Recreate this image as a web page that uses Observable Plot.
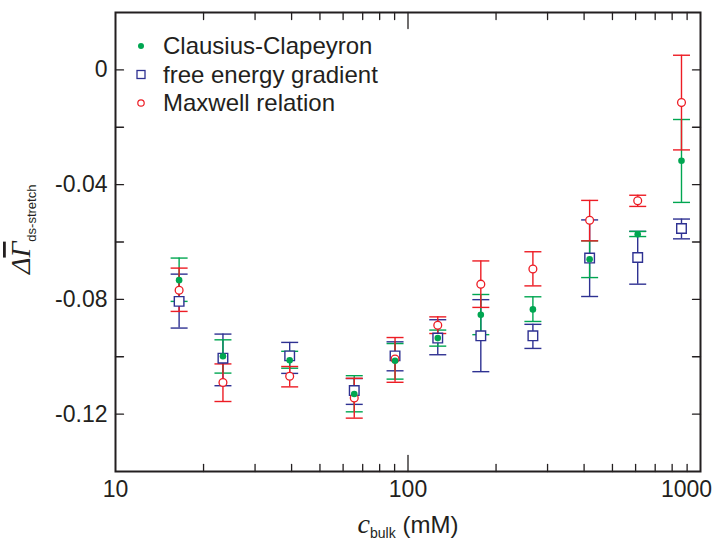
<!DOCTYPE html>
<html>
<head>
<meta charset="utf-8">
<script src="https://cdn.jsdelivr.net/npm/d3@7"></script>
<script src="https://cdn.jsdelivr.net/npm/@observablehq/plot@0.6"></script>
<style>
html, body { margin: 0; padding: 0; background: #fff; }
#chart { width: 714px; height: 540px; }
</style>
</head>
<body>
<div id="chart"></div>
<script>
// ---- data ----
const conc = [16.5, 23.3, 39.4, 65.5, 90.3, 126.4, 177.4, 267.3, 417.8, 610, 861];

// Clausius-Clapeyron (green, filled dot)
const ccVal = [-0.0733, -0.0998, -0.1012, -0.1130, -0.1014, -0.0935, -0.0854, -0.0835, -0.0660, -0.0573, -0.0317];
const ccLo  = [-0.0807, -0.1057, -0.1040, -0.1192, -0.1078, -0.0963, -0.0923, -0.0877, -0.0724, -0.0581, -0.0462];
const ccHi  = [-0.0656, -0.0941, -0.0981, -0.1066, -0.0954, -0.0907, -0.0783, -0.0791, -0.0596, -0.0563, -0.0173];

// free energy gradient (blue, open square)
const feVal = [-0.0807, -0.1005, -0.0997, -0.1118, -0.0997, -0.0935, -0.0927, -0.0927, -0.0656, -0.0654, -0.0553];
const feLo  = [-0.0900, -0.1101, -0.1058, -0.1166, -0.1049, -0.0993, -0.1052, -0.0971, -0.0790, -0.0747, -0.0589];
const feHi  = [-0.0712, -0.0921, -0.0950, -0.1076, -0.0948, -0.0871, -0.0801, -0.0887, -0.0523, -0.0563, -0.0520];

// Maxwell relation (red, open circle)
const mrVal = [-0.0768, -0.1090, -0.1068, -0.1144, -0.1008, -0.0890, -0.0747, -0.0694, -0.0524, -0.0456, -0.0114];
const mrLo  = [-0.0842, -0.1156, -0.1105, -0.1214, -0.1089, -0.0919, -0.0828, -0.0753, -0.0596, -0.0476, -0.0279];
const mrHi  = [-0.0691, -0.1025, -0.1034, -0.1075, -0.0933, -0.0861, -0.0666, -0.0634, -0.0455, -0.0437, 0.0051];

const seriesNames = ["Clausius-Clapeyron", "free energy gradient", "Maxwell relation"];

// axis ticks and labels
const xTickValues = [10, 100, 1000];
const xTickLabels = ["10", "100", "1000"];
const xMajorTicks = [100];
const xMinorTicks = [20, 30, 40, 50, 60, 70, 80, 90, 200, 300, 400, 500, 600, 700, 800, 900];
const yTickValues = [0, -0.04, -0.08, -0.12];
const yTickLabels = ["0", "-0.04", "-0.08", "-0.12"];
const yAllTicks = [0, -0.02, -0.04, -0.06, -0.08, -0.10, -0.12];

// ---- styling ----
const GREEN = "#00a651", BLUE = "#2e3192", RED = "#ed1c24", INK = "#231f20";
const SANS = "'Liberation Sans', Arial, Helvetica, sans-serif";
const SERIF = "'Liberation Serif', 'Times New Roman', serif";

const rows = conc.map((c, i) => ({
  c,
  cc: ccVal[i], ccLo: ccLo[i], ccHi: ccHi[i],
  fe: feVal[i], feLo: feLo[i], feHi: feHi[i],
  mr: mrVal[i], mrLo: mrLo[i], mrHi: mrHi[i]
}));

const tickShape = { draw(ctx, l) { ctx.moveTo(0, 0); ctx.lineTo(0, -l); } };
const capSymbol = { draw(ctx, size) { const w = Math.sqrt(size / Math.PI); ctx.moveTo(-w, 0); ctx.lineTo(w, 0); } };

function errorBars(key, color) {
  return [
    Plot.ruleX(rows, { x: "c", y1: key + "Lo", y2: key + "Hi", stroke: color, strokeWidth: 1.4 }),
    Plot.dot(rows, { x: "c", y: key + "Lo", symbol: capSymbol, r: 8.5, stroke: color, fill: "none", strokeWidth: 1.4 }),
    Plot.dot(rows, { x: "c", y: key + "Hi", symbol: capSymbol, r: 8.5, stroke: color, fill: "none", strokeWidth: 1.4 })
  ];
}

const tickOpts = { shape: tickShape, anchor: "start", stroke: INK, strokeWidth: 1.3 };

const chart = Plot.plot({
  width: 714,
  height: 540,
  marginLeft: 115,
  marginRight: 14,
  marginTop: 12,
  marginBottom: 69,
  style: { fontFamily: SANS, color: INK, background: "#fff" },
  x: { type: "log", domain: [10, 1000] },
  y: { domain: [-0.14, 0.02] },
  marks: [
    // inward ticks on all four sides
    Plot.vector(yAllTicks, { y: d => d, frameAnchor: "left", rotate: 90, length: 8, ...tickOpts }),
    Plot.vector(yAllTicks, { y: d => d, frameAnchor: "right", rotate: -90, length: 8, ...tickOpts }),
    Plot.vector(xMinorTicks, { x: d => d, frameAnchor: "bottom", rotate: 0, length: 7, ...tickOpts }),
    Plot.vector(xMajorTicks, { x: d => d, frameAnchor: "bottom", rotate: 0, length: 16, ...tickOpts }),
    Plot.vector(xMinorTicks, { x: d => d, frameAnchor: "top", rotate: 180, length: 7, ...tickOpts }),
    Plot.vector(xMajorTicks, { x: d => d, frameAnchor: "top", rotate: 180, length: 16, ...tickOpts }),
    // tick labels
    Plot.axisY({ ticks: yTickValues, tickSize: 0, tickPadding: 8, fontSize: 23, label: null,
      tickFormat: d => yTickLabels[yTickValues.indexOf(d)] }),
    Plot.axisX({ ticks: xTickValues.slice(0, 2), tickSize: 0, tickPadding: 9, fontSize: 23, label: null,
      tickFormat: d => xTickLabels[xTickValues.indexOf(d)] }),
    Plot.axisX({ ticks: xTickValues.slice(2), tickSize: 0, tickPadding: 9, fontSize: 23, label: null, dx: -14,
      tickFormat: d => xTickLabels[xTickValues.indexOf(d)] }),
    // error bars
    ...errorBars("fe", BLUE),
    ...errorBars("cc", GREEN),
    ...errorBars("mr", RED),
    // markers
    Plot.dot(rows, { x: "c", y: "fe", symbol: "square", r: 5.4, stroke: BLUE, fill: "#fff", strokeWidth: 1.4 }),
    Plot.dot(rows, { x: "c", y: "mr", symbol: "circle", r: 3.9, stroke: RED, fill: "#fff", strokeWidth: 1.3 }),
    Plot.dot(rows, { x: "c", y: "cc", symbol: "circle", r: 3.3, fill: GREEN, stroke: "none" }),
    Plot.frame({ stroke: INK, strokeWidth: 2 })
  ]
});

document.getElementById("chart").appendChild(chart);

const svg = d3.select(chart);

// legend
const legend = svg.append("g").attr("font-family", SANS).attr("font-size", 24)
  .attr("fill", INK).attr("text-anchor", "start");
const legendY = [46, 74.5, 103];
legend.append("circle").attr("cx", 141).attr("cy", legendY[0]).attr("r", 3).attr("fill", GREEN);
legend.append("rect").attr("x", 137).attr("y", legendY[1] - 4).attr("width", 8).attr("height", 8)
  .attr("fill", "#fff").attr("stroke", BLUE).attr("stroke-width", 1.3);
legend.append("circle").attr("cx", 141).attr("cy", legendY[2]).attr("r", 3.2)
  .attr("fill", "#fff").attr("stroke", RED).attr("stroke-width", 1.2);
seriesNames.forEach((name, i) => {
  legend.append("text").attr("x", 163).attr("y", legendY[i]).attr("dy", "0.35em")
    .attr("text-anchor", "start").text(name);
});

// x axis title
const xt = svg.append("text").attr("x", 408).attr("y", 533).attr("text-anchor", "middle").attr("fill", INK);
xt.append("tspan").attr("font-family", SERIF).attr("font-style", "italic").attr("font-size", 28).text("c");
xt.append("tspan").attr("font-family", SANS).attr("font-size", 14).attr("dy", 5).text("bulk");
xt.append("tspan").attr("font-family", SANS).attr("font-size", 24).attr("dy", -5).text(" (mM)");

// y axis title
const yt = svg.append("text").attr("transform", "translate(30,274) rotate(-90)").attr("text-anchor", "start").attr("fill", INK);
yt.append("tspan").attr("font-family", SERIF).attr("font-style", "italic").attr("font-size", 28).text("Δ");
yt.append("tspan").attr("font-family", SERIF).attr("font-style", "italic").attr("font-size", 28)
  .style("text-decoration", "overline").text("Γ");
yt.append("tspan").attr("font-family", SANS).attr("font-size", 13).attr("dy", 6).text("ds-stretch");
</script>
</body>
</html>
